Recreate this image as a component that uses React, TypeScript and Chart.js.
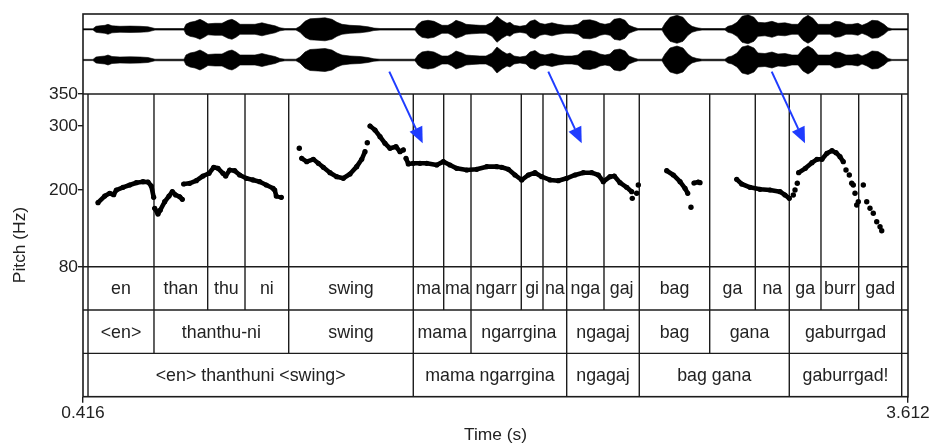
import React, { useEffect, useRef } from 'react';
import { Chart, registerables } from 'chart.js';

Chart.register(...registerables);

const FONT = "'Liberation Sans', Arial, Helvetica, sans-serif";

// ---------- data ----------
const timeRange = [0.416, 3.612];
const pitchRange = [80, 350];
const pitchTicks = [80, 200, 300, 350];

// waveform envelope: [time (s), relative amplitude]
const waveEnvelope: [number, number][] = [
  [0.416, 0.6], [0.4547, 0.6], [0.4664, 3], [0.4819, 3.5], [0.5012, 4], [0.5128, 5], [0.5283, 3.5],
  [0.5593, 3], [0.5981, 3.2], [0.6368, 3], [0.6678, 2.5], [0.6833, 1.5], [0.6949, 0.8], [0.8073, 0.8],
  [0.815, 5], [0.8305, 7], [0.8499, 8], [0.8692, 10], [0.8847, 8], [0.9002, 5.5], [0.9274, 6],
  [0.9545, 6], [0.9777, 9], [0.9932, 10], [1.0087, 8], [1.0242, 5], [1.0552, 5], [1.0823, 5],
  [1.1094, 6.5], [1.1327, 5], [1.1598, 3.5], [1.1792, 1.5], [1.1985, 0.8], [1.2411, 0.8], [1.2566, 3],
  [1.276, 8], [1.2954, 10.5], [1.3264, 11], [1.3535, 11.5], [1.3806, 10], [1.4, 7], [1.4194, 5],
  [1.4503, 4], [1.4891, 3.5], [1.5201, 2.5], [1.5433, 1.2], [1.5666, 0.8], [1.7021, 0.8], [1.7137, 5],
  [1.7292, 8], [1.7525, 9], [1.7757, 8], [1.7912, 6], [1.8067, 4], [1.8299, 4], [1.8454, 6],
  [1.8609, 9], [1.8842, 7], [1.8997, 5], [1.9229, 4.5], [1.9539, 4], [1.9771, 4], [2.0004, 7],
  [2.0197, 13], [2.0391, 9], [2.0585, 6], [2.0701, 7], [2.0856, 4], [2.1088, 3], [2.132, 4],
  [2.1475, 8], [2.1669, 9.5], [2.1863, 6], [2.2057, 5], [2.2328, 6.5], [2.2561, 5], [2.2832, 4],
  [2.3103, 4], [2.3336, 5], [2.353, 9], [2.3801, 9.5], [2.4033, 8], [2.4188, 6], [2.4382, 5],
  [2.4576, 6], [2.4731, 10], [2.4963, 11], [2.5157, 9], [2.5312, 4], [2.5506, 2], [2.5661, 0.8],
  [2.659, 0.8], [2.6707, 6], [2.69, 12], [2.7171, 14], [2.7404, 12], [2.7598, 6], [2.7753, 3],
  [2.7946, 1.5], [2.814, 0.8], [2.9031, 0.8], [2.9147, 3], [2.9302, 4], [2.9496, 7], [2.969, 13],
  [2.9922, 14.5], [3.0154, 12], [3.0309, 7], [3.058, 6.5], [3.0852, 8], [3.1084, 6], [3.1355, 6.5],
  [3.1626, 5], [3.1859, 5], [3.2052, 11], [3.2246, 14], [3.244, 11], [3.2633, 5], [3.2905, 5],
  [3.3098, 5], [3.3292, 8], [3.3486, 7.5], [3.3718, 5], [3.3951, 5], [3.4183, 6], [3.4338, 4],
  [3.4532, 6], [3.4725, 9], [3.4958, 8.5], [3.519, 5], [3.5345, 1.5], [3.55, 0.6], [3.612, 0.6],
];

// pitch contours: [time (s), Hz]
const pitchContours: [number, number][][] = [
  [[0.4741, 180.1], [0.5001, 190.5], [0.5194, 194.8], [0.5349, 192.5], [0.545, 199.9], [0.571, 204.1],
   [0.5969, 207.7], [0.6225, 211.3], [0.6484, 212.9], [0.6678, 212.4], [0.6806, 206.2], [0.6899, 188.5]],
  [[0.6938, 171.3], [0.7065, 162.4], [0.7155, 168.6], [0.7325, 181.6], [0.7492, 190.5], [0.762, 197.3],
   [0.7751, 192.1], [0.7906, 189.4], [0.8007, 185.4]],
  [[0.806, 209.3], [0.8293, 210.4], [0.8549, 214.5], [0.8809, 221.8], [0.9041, 226.0], [0.9223, 235.4],
   [0.939, 233.8], [0.9584, 226.0], [0.9688, 221.8], [0.9843, 231.2], [1.0037, 230.1], [1.023, 223.4],
   [1.0486, 218.2], [1.0746, 215.6], [1.1005, 212.9], [1.1261, 207.7], [1.1521, 202.6], [1.1586, 199.9],
   [1.1648, 190.5], [1.1842, 188.5]],
  [[1.2632, 249.5], [1.2826, 244.2], [1.3082, 247.9], [1.3276, 241.7], [1.3469, 235.4], [1.3729, 227.0],
   [1.3988, 220.7], [1.4244, 218.2], [1.4503, 224.9], [1.4763, 236.4], [1.4957, 247.9], [1.5085, 259.8]],
  [[1.5278, 300.0], [1.5472, 293.7], [1.5666, 283.3], [1.5859, 272.9], [1.6053, 265.1], [1.6286, 267.6],
   [1.6441, 259.8], [1.6569, 262.5]],
  [[1.6673, 249.5], [1.6762, 240.6], [1.6956, 241.7], [1.7215, 241.7], [1.7475, 241.7], [1.7862, 239.0],
   [1.8118, 244.2], [1.8377, 239.0], [1.8637, 233.8], [1.9024, 231.2], [1.9411, 232.3], [1.9799, 236.4],
   [2.0187, 236.4], [2.038, 235.4], [2.0636, 232.3], [2.0896, 223.4], [2.1155, 215.6], [2.1411, 223.4],
   [2.1671, 227.0], [2.193, 220.7], [2.2251, 215.6], [2.2573, 214.5], [2.2898, 218.2], [2.322, 223.4],
   [2.3542, 227.0], [2.3866, 227.0], [2.4122, 223.4], [2.4316, 212.9], [2.4576, 220.7], [2.4742, 221.8],
   [2.4963, 211.3], [2.5222, 204.1], [2.5416, 197.3]],
  [[2.6773, 230.1], [2.7029, 223.4], [2.7289, 212.9], [2.7482, 202.6], [2.7587, 194.8]],
  [[2.7829, 210.9], [2.7996, 212.4], [2.8062, 211.3]],
  [[2.9484, 216.6], [2.9678, 209.3], [2.9999, 204.1], [3.0387, 201.0], [3.0774, 199.9], [3.1162, 197.3],
   [3.1355, 192.1], [3.1522, 186.9]],
  [[3.1884, 227.0], [3.2143, 233.8], [3.2399, 242.6], [3.2593, 247.9], [3.2787, 247.9], [3.2981, 257.3],
   [3.3175, 261.4], [3.333, 258.2], [3.3486, 252.0], [3.3613, 244.2]],
];

// isolated pitch points: [time (s), Hz]
const pitchDots: [number, number][] = [
  [1.2539, 265.1], [1.5174, 273.9], [2.5439, 186.9], [2.561, 194.8], [2.5672, 207.7], [2.7713, 172.9],
  [3.1677, 192.1], [3.1743, 199.9], [3.1832, 210.4],
  [3.3718, 231.2], [3.3846, 223.4], [3.3939, 210.4], [3.4001, 207.7], [3.4067, 194.8], [3.4133, 176.5],
  [3.4195, 181.6], [3.4389, 207.7], [3.4521, 181.6], [3.4648, 171.3], [3.4776, 163.5], [3.4908, 150.4],
  [3.5036, 142.5], [3.5102, 136.3],
];

// text grid tiers
const tier1Bounds = [0.4354, 0.691, 0.899, 1.0436, 1.2129, 1.6955, 1.8133, 1.9191, 2.1139, 2.198,
  2.2898, 2.4343, 2.571, 2.8438, 3.0204, 3.1521, 3.2749, 3.421, 3.5876];
const tier1Labels = ['en', 'than', 'thu', 'ni', 'swing', 'ma', 'ma', 'ngarr', 'gi', 'na', 'nga', 'gaj',
  'bag', 'ga', 'na', 'ga', 'burr', 'gad'];
const tier2Bounds = [0.4354, 0.691, 1.2129, 1.6955, 1.9191, 2.2898, 2.571, 2.8438, 3.1521, 3.5876];
const tier2Labels = ['<en>', 'thanthu-ni', 'swing', 'mama', 'ngarrgina', 'ngagaj', 'bag', 'gana', 'gaburrgad'];
const tier3Bounds = [0.4354, 1.6955, 2.2898, 2.571, 3.1521, 3.5876];
const tier3Labels = ['<en> thanthuni <swing>', 'mama ngarrgina', 'ngagaj', 'bag gana', 'gaburrgad!'];

// blue arrows (time s, Hz on the pitch scale)
const arrowFromT = [1.6026, 2.2185, 3.084];
const arrowToT = [1.732, 2.348, 3.213];
const arrowFromHz = [384.9, 384.9, 384.9];
const arrowToHz = [272.9, 272.9, 272.9];

// ---------- layout ----------
const W = 934;
const H = 443;
const AREA_LEFT = 83;
const AREA_TOP = 14;
const AREA_RIGHT = 908;
const AREA_BOTTOM = 396.7;
const AREA_H = AREA_BOTTOM - AREA_TOP;
const WAVE_H = 80;
const TIER_H = 43.33;
const N_TIERS = 3;
const CH_OFFSETS = [15.3, 46];
const pitchPx = AREA_H - WAVE_H - N_TIERS * TIER_H;
const pxPerHz = pitchPx / (pitchRange[1] - pitchRange[0]);
const Y_MAX = pitchRange[1] + WAVE_H / pxPerHz;
const Y_MIN = pitchRange[0] - (N_TIERS * TIER_H) / pxPerHz;

const INK = '#1c1c1c';
const TEXT = '#222';
const BLUE = '#1f3cff';

const praatPlugin = {
  id: 'praat',
  beforeDatasetsDraw(chart: any) {
    const { ctx, chartArea: a, scales } = chart;
    const x = scales.x, y = scales.y, yT = scales.yT;
    ctx.save();
    ctx.strokeStyle = INK;
    ctx.lineWidth = 1.4;
    const hl = (py: number) => {
      ctx.beginPath();
      ctx.moveTo(a.left, py);
      ctx.lineTo(a.right, py);
      ctx.stroke();
    };
    hl(y.getPixelForValue(pitchRange[1]));
    hl(y.getPixelForValue(pitchRange[0]));
    for (let r = 1; r < N_TIERS; r++) hl(yT.getPixelForValue(r));

    const tiers = [
      { b: tier1Bounds, l: tier1Labels, row: 2, extendTop: true },
      { b: tier2Bounds, l: tier2Labels, row: 1, extendTop: false },
      { b: tier3Bounds, l: tier3Labels, row: 0, extendTop: false },
    ];
    ctx.font = `17.8px ${FONT}`;
    ctx.fillStyle = TEXT;
    ctx.textAlign = 'center';
    ctx.textBaseline = 'middle';
    tiers.forEach((t) => {
      const bottom = yT.getPixelForValue(t.row);
      const rowTop = yT.getPixelForValue(t.row + 1);
      const lineTop = t.extendTop ? y.getPixelForValue(pitchRange[1]) : rowTop;
      ctx.lineWidth = 1.4;
      t.b.forEach((v: number) => {
        const px = x.getPixelForValue(v);
        ctx.beginPath();
        ctx.moveTo(px, lineTop);
        ctx.lineTo(px, bottom);
        ctx.stroke();
      });
      t.l.forEach((lab: string, i: number) => {
        const cx = (x.getPixelForValue(t.b[i]) + x.getPixelForValue(t.b[i + 1])) / 2;
        ctx.fillText(lab, cx, (rowTop + bottom) / 2 + 1);
      });
    });
    ctx.lineWidth = 1.6;
    ctx.strokeRect(a.left, a.top, a.right - a.left, a.bottom - a.top);
    ctx.restore();
  },
  afterDatasetsDraw(chart: any) {
    const { ctx, scales } = chart;
    const x = scales.x, y = scales.y;
    ctx.save();
    ctx.strokeStyle = BLUE;
    ctx.fillStyle = BLUE;
    ctx.lineWidth = 2;
    arrowFromT.forEach((t0, i) => {
      const x0 = x.getPixelForValue(t0), y0 = y.getPixelForValue(arrowFromHz[i]);
      const x1 = x.getPixelForValue(arrowToT[i]), y1 = y.getPixelForValue(arrowToHz[i]);
      const ang = Math.atan2(y1 - y0, x1 - x0);
      const L = 16, hw = 7;
      const bx = x1 - L * Math.cos(ang), by = y1 - L * Math.sin(ang);
      ctx.beginPath();
      ctx.moveTo(x0, y0);
      ctx.lineTo(bx, by);
      ctx.stroke();
      ctx.beginPath();
      ctx.moveTo(x1, y1);
      ctx.lineTo(bx + hw * Math.sin(ang), by - hw * Math.cos(ang));
      ctx.lineTo(bx - hw * Math.sin(ang), by + hw * Math.cos(ang));
      ctx.closePath();
      ctx.fill();
    });
    ctx.restore();
  },
  afterDraw(chart: any) {
    const { ctx, chartArea: a } = chart;
    ctx.save();
    ctx.fillStyle = TEXT;
    ctx.font = `17.4px ${FONT}`;
    ctx.textAlign = 'center';
    ctx.textBaseline = 'middle';
    ctx.fillText('Time (s)', (a.left + a.right) / 2, 435);
    ctx.translate(20, 245);
    ctx.rotate(-Math.PI / 2);
    ctx.fillText('Pitch (Hz)', 0, 0);
    ctx.restore();
  },
};

export default function App() {
  const ref = useRef<HTMLCanvasElement | null>(null);
  useEffect(() => {
    if (!ref.current) return;
    const datasets: any[] = [];
    ['yW1', 'yW2'].forEach((axis) => {
      datasets.push({
        type: 'line', yAxisID: axis, data: waveEnvelope.map(([t, v]) => ({ x: t, y: v })),
        borderColor: '#000', borderWidth: 0.6, pointRadius: 0, fill: false, tension: 0,
      });
      datasets.push({
        type: 'line', yAxisID: axis, data: waveEnvelope.map(([t, v]) => ({ x: t, y: -v })),
        borderColor: '#000', borderWidth: 0.6, pointRadius: 0, fill: '-1', backgroundColor: '#000', tension: 0,
      });
    });
    pitchContours.forEach((seg) => {
      datasets.push({
        type: 'line', yAxisID: 'y', data: seg.map(([t, v]) => ({ x: t, y: v })),
        borderColor: '#000', borderWidth: 4.6, borderCapStyle: 'round', borderJoinStyle: 'round',
        pointRadius: 2.6, pointBorderWidth: 0, pointBackgroundColor: '#000', fill: false, tension: 0,
      });
    });
    datasets.push({
      type: 'scatter', yAxisID: 'y', data: pitchDots.map(([t, v]) => ({ x: t, y: v })), showLine: false,
      pointRadius: 2.7, pointBorderWidth: 0, pointBackgroundColor: '#000',
    });

    const tickFont = { family: FONT, size: 17.4 };
    const chart = new Chart(ref.current, {
      type: 'line',
      data: { datasets },
      plugins: [praatPlugin],
      options: {
        animation: false,
        responsive: false,
        devicePixelRatio: 1,
        events: [],
        layout: { padding: { left: 0, top: AREA_TOP, right: W - AREA_RIGHT, bottom: 0 } },
        plugins: { legend: { display: false }, tooltip: { enabled: false } },
        scales: {
          x: {
            type: 'linear', min: timeRange[0], max: timeRange[1],
            afterBuildTicks: (s: any) => { s.ticks = timeRange.map((v) => ({ value: v })); },
            afterFit: (s: any) => { s.height = H - AREA_BOTTOM; },
            ticks: { font: tickFont, color: TEXT, padding: 0, maxRotation: 0, autoSkip: false,
              callback: (v: any) => Number(v).toFixed(3) },
            grid: { drawOnChartArea: false, drawTicks: true, tickLength: 6, color: INK, lineWidth: 1.4 },
            border: { display: false },
          },
          y: {
            type: 'linear', position: 'left', min: Y_MIN, max: Y_MAX,
            afterBuildTicks: (s: any) => { s.ticks = pitchTicks.map((v) => ({ value: v })); },
            afterFit: (s: any) => { s.width = AREA_LEFT; },
            ticks: { font: tickFont, color: TEXT, padding: 0, autoSkip: false, callback: (v: any) => String(v) },
            grid: { drawOnChartArea: false, drawTicks: true, tickLength: 5, color: INK, lineWidth: 1.4 },
            border: { display: false },
          },
          yT: { type: 'linear', display: false, min: 0, max: AREA_H / TIER_H },
          yW1: { type: 'linear', display: false, min: CH_OFFSETS[0] - AREA_H, max: CH_OFFSETS[0] },
          yW2: { type: 'linear', display: false, min: CH_OFFSETS[1] - AREA_H, max: CH_OFFSETS[1] },
        },
      } as any,
    });
    return () => chart.destroy();
  }, []);

  return (
    <div style={{ position: 'absolute', left: 0, top: 0, width: W, height: H, background: '#fff' }}>
      <canvas ref={ref} width={W} height={H} style={{ display: 'block' }} />
    </div>
  );
}
